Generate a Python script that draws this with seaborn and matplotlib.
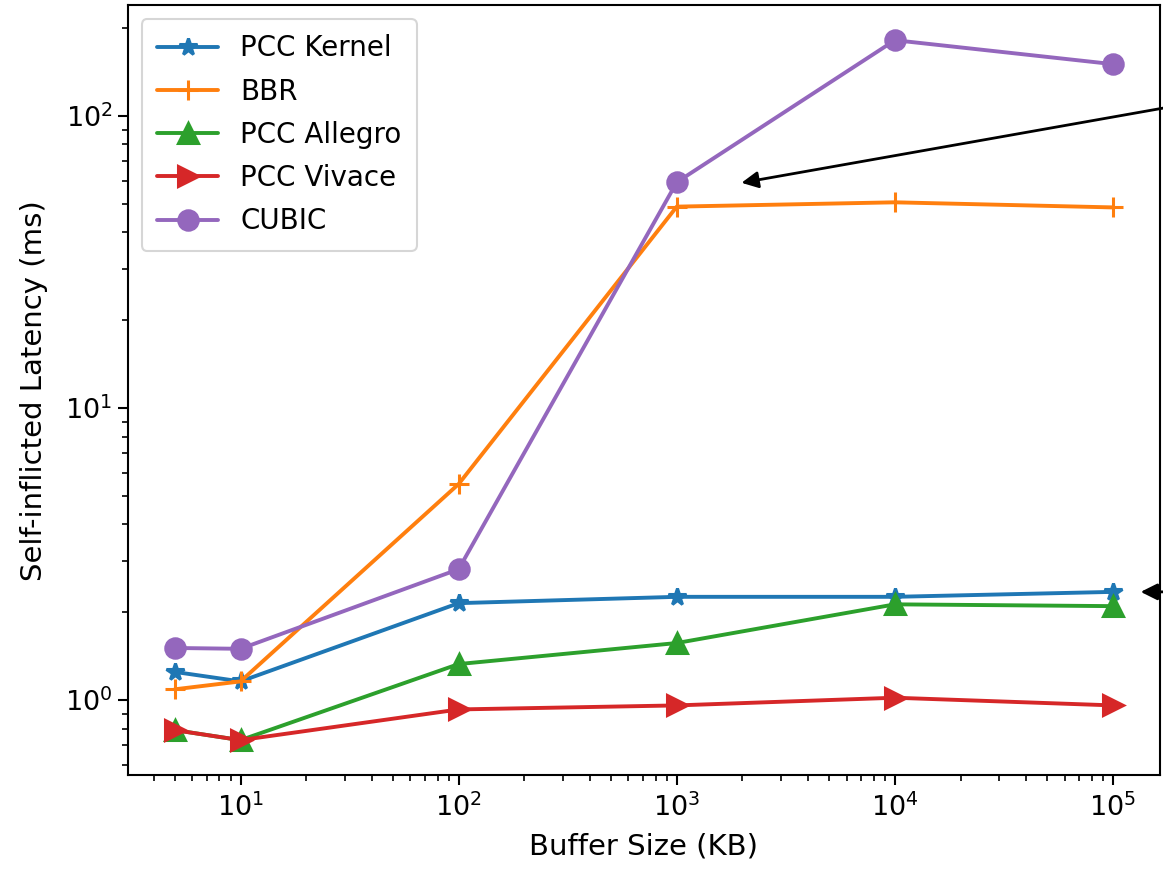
import numpy as np
import pandas as pd
import seaborn as sns
import matplotlib

matplotlib.use('Agg')
import matplotlib.pyplot as plt

# 缓冲区大小 (KB)
buffer_kb = [5, 10, 100, 1000, 10000, 100000]
# 各算法的自致延迟 (ms)
pcc_kernel = [1.25, 1.16, 2.15, 2.26, 2.26, 2.35]
bbr = [1.09, 1.16, 5.5, 49.0, 50.7, 48.7]
pcc_allegro = [0.79, 0.73, 1.33, 1.57, 2.13, 2.10]
pcc_vivace = [0.79, 0.73, 0.93, 0.96, 1.02, 0.96]
cubic = [1.51, 1.50, 2.81, 59.4, 182.0, 150.7]

names = ["PCC Kernel", "BBR", "PCC Allegro", "PCC Vivace", "CUBIC"]
series = [pcc_kernel, bbr, pcc_allegro, pcc_vivace, cubic]
markers = ["*", "+", "^", ">", "o"]
msizes = [13, 15, 14, 14, 14]
colors = sns.color_palette("tab10", 5)

sns.set_style("white")
plt.rcParams['font.family'] = ['DejaVu Sans']
plt.rcParams['text.color'] = 'black'
plt.rcParams['axes.labelcolor'] = 'black'
plt.rcParams['xtick.color'] = 'black'
plt.rcParams['ytick.color'] = 'black'

fig = plt.figure(figsize=(11.63, 8.69), dpi=100)
ax = fig.add_axes([0.110, 0.108, 0.8874, 0.886])

# 逐条画线（seaborn 不允许填充与线形标记混用）
for name, vals, mk, ms, c in zip(names, series, markers, msizes, colors):
    d = pd.DataFrame({"Buffer Size (KB)": buffer_kb, "Latency": vals})
    sns.lineplot(data=d, x="Buffer Size (KB)", y="Latency", label=name, color=c,
                 marker=mk, linewidth=2.8, markersize=ms, markeredgewidth=2.2,
                 markeredgecolor=c, ax=ax)
ax.set_xscale("log")
ax.set_yscale("log")
ax.margins(0.05)

ax.set_xlabel("Buffer Size (KB)", fontsize=21, labelpad=7)
ax.set_ylabel("Self-inflicted Latency (ms)", fontsize=21, labelpad=12)
ax.tick_params(axis="both", which="major", labelsize=19.5, length=7.5, width=1.5, direction="out",
               bottom=True, left=True)
ax.tick_params(axis="x", which="major", pad=6)
ax.tick_params(axis="both", which="minor", length=4, width=1.2, bottom=True, left=True)
for s in ax.spines.values():
    s.set_linewidth(1.5)
    s.set_color("black")

leg = ax.legend(loc="upper left", fontsize=20, frameon=True, borderpad=0.55, handlelength=2.2,
                labelspacing=0.55)
leg.get_frame().set_edgecolor("#cccccc")
leg.get_frame().set_linewidth(1.5)

# 指向曲线的箭头（注释文字在图外）
ax.annotate("", xy=(1923, 58.9), xytext=(1.09, 0.887), xycoords="data", textcoords="axes fraction",
            arrowprops=dict(arrowstyle="-|>", color="black", lw=2, mutation_scale=25),
            annotation_clip=False)
ax.annotate("", xy=(1.3e5, 2.35), xytext=(1.09, 0.238), xycoords="data", textcoords="axes fraction",
            arrowprops=dict(arrowstyle="-|>", color="black", lw=2, mutation_scale=25),
            annotation_clip=False)

plt.savefig("out.png", dpi=100)
